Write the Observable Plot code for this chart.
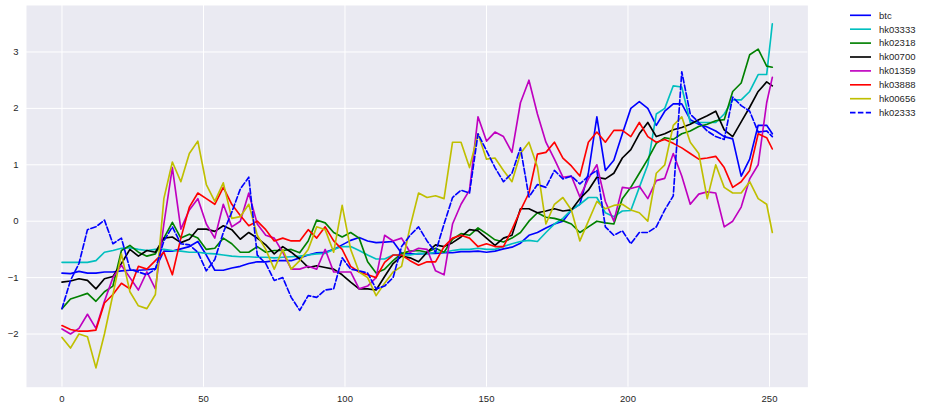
<!DOCTYPE html>
<html><head><meta charset="utf-8">
<script src="https://cdn.jsdelivr.net/npm/d3@7"></script>
<script src="https://cdn.jsdelivr.net/npm/@observablehq/plot@0.6"></script>
<style>
body{margin:0;background:#fff;}
#wrap{position:relative;width:927px;height:410px;font-family:"Liberation Sans",Arial,sans-serif;}
#legend{position:absolute;left:0;top:0;}
</style></head><body><div id="wrap"></div>
<script>
// x positions (day index) at which values were read
const idx = [0,3,6,9,12,15,18,21,24,27,
 30,33,36,39,42,45,48,51,54,57,
 60,63,66,69,72,75,78,81,84,87,
 90,93,96,99,102,105,108,111,114,117,
 120,123,126,129,132,135,138,141,144,147,
 150,153,156,159,162,165,168,171,174,177,
 180,183,186,189,192,195,198,201,204,207,
 210,213,216,219,222,225,228,231,234,237,
 240,243,246,249,251];

const btc = [-0.92,-0.93,-0.89,-0.92,-0.92,-0.9,-0.9,-0.88,-0.87,-0.87,
 -0.86,-0.84,-0.53,-0.53,-0.49,-0.45,-0.36,-0.6,-0.87,-0.87,
 -0.83,-0.8,-0.75,-0.72,-0.72,-0.7,-0.7,-0.7,-0.65,-0.6,
 -0.56,-0.55,-0.5,-0.42,-0.34,-0.29,-0.35,-0.38,-0.37,-0.36,
 -0.57,-0.58,-0.58,-0.57,-0.57,-0.56,-0.56,-0.54,-0.54,-0.53,
 -0.55,-0.53,-0.49,-0.46,-0.39,-0.25,-0.2,-0.12,-0.05,0.0,
 0.2,0.3,0.85,1.85,0.9,1.08,1.55,2.0,2.12,2.0,
 1.7,1.95,2.08,2.08,1.8,1.72,1.67,1.6,1.5,1.46,
 0.8,1.1,1.7,1.7,1.55];

const hk03333 = [-0.73,-0.73,-0.73,-0.73,-0.7,-0.55,-0.52,-0.48,-0.47,-0.5,
 -0.52,-0.5,-0.5,-0.52,-0.53,-0.55,-0.55,-0.57,-0.58,-0.6,
 -0.62,-0.63,-0.63,-0.64,-0.64,-0.65,-0.64,-0.63,-0.62,-0.6,
 -0.58,-0.57,-0.5,-0.45,-0.45,-0.52,-0.6,-0.67,-0.67,-0.6,
 -0.6,-0.6,-0.57,-0.58,-0.55,-0.55,-0.52,-0.5,-0.5,-0.48,
 -0.5,-0.5,-0.45,-0.4,-0.36,-0.34,-0.36,-0.2,-0.05,0.05,
 0.2,0.3,0.42,0.42,0.15,0.08,0.18,0.19,0.6,1.0,
 1.9,2.0,2.4,2.38,1.75,1.75,1.75,1.75,1.9,2.15,
 2.15,2.3,2.6,2.6,3.5];

const hk02318 = [-1.55,-1.38,-1.33,-1.28,-1.42,-1.25,-1.15,-0.52,-0.43,-0.55,
 -0.62,-0.58,-0.3,-0.02,-0.3,-0.23,-0.3,-0.5,-0.48,-0.3,
 -0.4,-0.55,-0.55,-0.45,-0.55,-0.52,-0.52,-0.5,-0.56,-0.35,
 0.02,-0.03,-0.2,-0.28,-0.2,-0.3,-0.72,-0.92,-0.85,-0.7,
 -0.57,-0.53,-0.52,-0.55,-0.48,-0.55,-0.32,-0.22,-0.25,-0.12,
 -0.22,-0.33,-0.37,-0.3,-0.2,0.0,0.15,0.07,0.05,0.01,
 -0.05,-0.2,-0.1,0.0,-0.03,-0.05,0.4,0.6,0.85,1.1,
 1.38,1.48,1.45,1.55,1.6,1.68,1.72,1.78,1.8,2.3,
 2.45,2.95,3.05,2.75,2.73];

const hk00700 = [-1.08,-1.06,-1.02,-1.05,-1.2,-1.02,-0.98,-0.75,-0.5,-0.62,
 -0.52,-0.55,-0.3,-0.28,-0.38,-0.32,-0.14,-0.14,-0.18,-0.08,
 -0.15,-0.32,-0.2,-0.3,-0.42,-0.58,-0.45,-0.55,-0.67,-0.82,
 -0.79,-0.82,-0.85,-0.95,-1.08,-1.2,-1.2,-1.22,-0.98,-0.75,
 -0.62,-0.65,-0.72,-0.55,-0.42,-0.45,-0.38,-0.28,-0.15,-0.17,
 -0.3,-0.43,-0.3,-0.25,0.22,0.22,0.15,0.18,0.22,0.18,
 0.2,0.4,0.55,0.78,0.75,0.85,1.12,1.27,1.55,1.75,
 1.5,1.55,1.62,1.66,1.72,1.8,1.87,1.95,1.62,1.5,
 1.76,2.02,2.3,2.47,2.4];

const hk01359 = [-1.91,-2.0,-1.9,-1.65,-1.9,-1.42,-1.0,-0.78,-1.0,-1.22,
 -0.9,-1.2,-0.05,0.95,-0.14,0.2,0.4,-0.05,-0.3,0.3,
 -0.1,0.0,0.5,-0.05,-0.25,-0.3,-0.55,-0.85,-0.85,-0.8,
 -0.85,-0.5,-0.9,-0.9,-0.9,-1.2,-1.15,-1.0,-0.25,-0.35,
 -0.3,-0.55,-0.48,-0.5,-0.88,-0.95,-0.05,0.3,0.55,1.85,
 1.42,1.58,1.5,1.22,2.1,2.5,1.9,1.4,1.1,0.78,
 0.8,0.43,0.75,1.0,0.35,0.0,0.6,0.58,0.62,0.4,
 0.72,0.76,1.2,0.8,0.3,0.48,0.52,0.5,-0.1,0.0,
 0.25,0.75,1.0,2.1,2.55];

const hk03888 = [-1.85,-1.92,-1.95,-1.95,-1.93,-1.45,-1.3,-1.1,-1.2,-0.8,
 -0.85,-0.7,-0.55,-0.95,-0.3,0.25,0.5,0.4,0.3,0.6,
 0.3,0.1,-0.08,0.0,-0.15,-0.35,-0.3,-0.35,-0.35,-0.15,
 -0.3,-0.1,-0.35,-0.5,-0.8,-0.9,-0.95,-1.0,-0.73,-0.6,
 -0.6,-0.7,-0.78,-0.72,-0.72,-0.45,-0.3,-0.25,-0.3,-0.45,
 -0.4,-0.45,-0.45,-0.15,0.19,0.5,1.19,1.22,1.4,1.12,
 0.98,0.8,1.4,1.58,1.4,1.61,1.61,1.5,1.75,1.5,
 1.4,1.45,1.38,1.3,1.2,1.1,1.12,1.15,0.95,0.6,
 0.7,0.9,1.55,1.48,1.28];

const hk00656 = [-2.06,-2.25,-2.0,-2.05,-2.6,-2.0,-1.3,-0.58,-1.25,-1.5,
 -1.55,-1.3,0.4,1.05,0.7,1.2,1.42,0.65,0.35,0.68,
 0.05,0.08,0.3,-0.25,-0.5,-0.85,-0.5,-0.85,-0.7,-0.5,
 -0.1,-0.15,-0.55,0.28,-0.5,-0.9,-1.0,-1.32,-1.1,-0.9,
 -0.8,-0.1,0.5,0.42,0.45,0.4,1.4,1.4,0.95,1.55,
 1.1,1.12,0.9,0.7,1.2,1.4,0.96,-0.05,0.3,0.42,
 0.2,-0.35,0.0,0.35,0.22,0.28,0.3,0.2,0.15,0.0,
 0.85,1.0,1.7,1.85,1.4,1.2,0.4,1.0,0.6,0.5,
 0.5,0.7,0.4,0.3,-0.2];

const hk02333 = [-1.55,-1.05,-0.75,-0.15,-0.1,0.02,-0.4,-0.3,-0.85,-0.9,
 -0.95,-0.85,-0.35,-0.1,-0.4,-0.42,-0.55,-0.88,-0.68,-0.2,
 0.16,0.57,0.78,-0.6,-0.75,-1.05,-1.0,-1.35,-1.58,-1.32,
 -1.35,-1.22,-1.2,-0.65,-0.85,-0.88,-0.92,-1.2,-1.15,-1.0,
 -0.45,-0.25,-0.1,-0.35,-0.55,-0.05,0.42,0.55,0.5,1.55,
 1.25,0.95,0.7,0.85,1.3,0.43,0.65,0.6,0.9,0.75,
 0.8,0.66,0.8,0.9,-0.1,-0.25,-0.17,-0.4,-0.2,-0.2,
 -0.1,0.2,0.45,2.65,1.9,1.75,1.6,1.5,1.45,2.2,
 2.05,1.95,1.58,1.6,1.5];

const seriesNames = ["btc","hk03333","hk02318","hk00700","hk01359","hk03888","hk00656","hk02333"];
const seriesColors = ["#0000ff","#00bfbf","#008000","#000000","#bf00bf","#ff0000","#bfbf00","#0000ff"];
const seriesDash = [null,null,null,null,null,null,null,"5.5,2.4"];
const xTicks = [0,50,100,150,200,250];
const yTicks = [-2,-1,0,1,2,3];

const seriesValues = [btc,hk03333,hk02318,hk00700,hk01359,hk03888,hk00656,hk02333];

const marks = [
  Plot.frame({fill:"#EAEAF2", stroke:"none"}),
  Plot.ruleX(xTicks,{stroke:"white",strokeWidth:1}),
  Plot.ruleY(yTicks,{stroke:"white",strokeWidth:1})
];
seriesValues.forEach((vals,k)=>{
  const data = idx.map((x,i)=>({x, y: vals[i]}));
  const opts = {x:"x", y:"y", stroke: seriesColors[k], strokeWidth:1.65, strokeLinejoin:"round"};
  if (seriesDash[k]) opts.strokeDasharray = seriesDash[k];
  marks.push(Plot.line(data, opts));
});

const chart = Plot.plot({
  width: 927, height: 410,
  marginLeft: 26, marginRight: 119.6, marginTop: 5, marginBottom: 23.3,
  style: {background:"white", color:"#262626", fontSize:"9.5px", fontFamily:"'Liberation Sans', Arial, sans-serif", overflow:"visible"},
  x: {domain:[-12.54,263.57], ticks:xTicks, tickSize:0, tickPadding:8.5, label:null, tickFormat:d=>String(d)},
  y: {domain:[-2.943,3.824], ticks:yTicks, tickSize:0, tickPadding:8, label:null, tickFormat:d=>d<0?"\u2212"+(-d):String(d)},
  marks
});
const wrap = document.getElementById("wrap");
wrap.appendChild(chart);

// legend (outside plot, right side)
const lg = d3.select(wrap).append("svg").attr("id","legend").attr("width",927).attr("height",410);
seriesNames.forEach((n,k)=>{
  const y = 15.3 + 13.9*k;
  const ln = lg.append("line").attr("x1",850).attr("x2",871).attr("y1",y).attr("y2",y)
    .attr("stroke",seriesColors[k]).attr("stroke-width",1.65);
  if (seriesDash[k]) ln.attr("stroke-dasharray",seriesDash[k]);
  lg.append("text").attr("x",879).attr("y",y).attr("dy","0.35em")
    .attr("font-size","9.5px").attr("font-family","'Liberation Sans', Arial, sans-serif")
    .attr("fill","#262626").text(n);
});
</script></body></html>
